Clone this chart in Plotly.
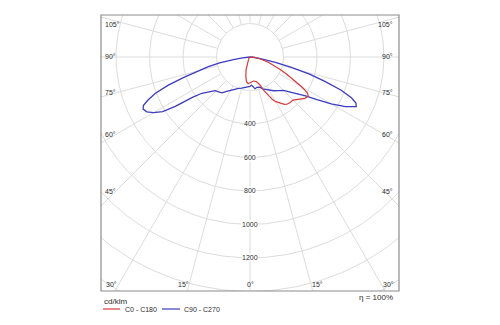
import numpy as np
import plotly.graph_objects as go

# Luminous intensity distribution (cd/klm) versus gamma angle (deg, 0 = straight down)
# C0 / C180 plane (red)
g_c0 = [0, 4, 8, 12, 15, 18, 20, 22, 25, 28, 30, 33, 36, 38, 41, 45, 48, 50, 53, 56,
        58, 60, 62.5, 65, 67.5, 70, 72.5, 75, 77.5, 80, 85, 90]
i_c0 = [155, 150, 145, 148, 153, 168, 180, 212, 250, 290, 308, 330, 350, 358, 362, 364, 380, 392, 410, 420,
        405, 358, 295, 240, 195, 160, 128, 102, 80, 58, 25, 0]
g_c180 = [0, 4, 8, 12, 17, 23, 30, 40, 60, 90]
i_c180 = [155, 160, 149, 120, 80, 40, 18, 8, 2, 0]

# C90 / C270 plane (blue)
g_c90 = [0, 3, 6, 9, 13, 18, 22, 27, 31, 35, 40, 45, 50, 52.5, 55, 57.5, 60, 62.5, 65, 66.5,
         68, 70, 72, 74, 76, 78, 80, 83, 86, 90]
i_c90 = [176, 168, 182, 192, 186, 190, 205, 217, 232, 246, 262, 282, 330, 360, 405, 475, 560, 642, 700, 690,
         655, 580, 470, 370, 255, 155, 95, 50, 20, 0]
g_c270 = [0, 3, 6, 10, 15, 20, 25, 30, 35, 38, 42, 46, 50, 53, 55, 56.5, 58, 60, 62, 64,
          65.5, 67, 69, 71, 73, 75, 77, 79, 81, 84, 87, 90]
i_c270 = [176, 180, 182, 186, 193, 200, 213, 228, 252, 272, 280, 290, 325, 360, 420, 535, 615, 665, 698, 710,
          700, 665, 607, 516, 410, 320, 255, 185, 100, 45, 15, 0]

ring_values = [200, 400, 600, 800, 1000, 1200, 1400, 1600]
ring_labels = [400, 600, 800, 1000, 1200]
spoke_step = 15

side_labels = ["105°", "90°", "75°", "60°", "45°"]
side_label_py = [24, 56, 92, 134, 191.5]
bottom_labels = ["30°", "15°", "0°", "15°", "30°"]
bottom_label_px = [111.5, 183, 250, 317, 388.5]

series_names = ["C0 - C180", "C90 - C270"]
unit_label = "cd/klm"
efficiency_label = "η = 100%"

W, H = 500, 325
L, R, T, B = 101, 399, 15, 291          # plot area in pixels
X_RANGE = [-890, 890]
Y_RANGE = [-1398, 251]

RED = "rgb(214,58,58)"
BLUE = "rgb(60,60,190)"
GRID = "#dcdcdc"
TXT = "#2e2e2e"
FONT = "Liberation Sans"


def to_xy(g_right, i_right, g_left, i_left):
    """Left half (gamma 90 -> 0) followed by right half (gamma 0 -> 90)."""
    gl = np.radians(np.array(g_left[::-1], dtype=float))
    il = np.array(i_left[::-1], dtype=float)
    gr = np.radians(np.array(g_right, dtype=float))
    ir = np.array(i_right, dtype=float)
    x = np.concatenate([-il * np.sin(gl), ir * np.sin(gr)])
    y = np.concatenate([-il * np.cos(gl), -ir * np.cos(gr)])
    return x, y


def px_x(px):
    return (px - L) / (R - L)


def px_y(py):
    return (B - py) / (B - T)


def label(x, y, text, xanchor, size=7, xref="paper", yref="paper", **kw):
    return dict(x=x, y=y, xref=xref, yref=yref, text=text, showarrow=False,
                xanchor=xanchor, yanchor="middle",
                font=dict(size=size, color=TXT, family=FONT), **kw)


fig = go.Figure()

# polar grid: rings
t = np.linspace(0, 2 * np.pi, 361)
gx, gy = [], []
for r in ring_values:
    gx += list(r * np.sin(t)) + [None]
    gy += list(r * np.cos(t)) + [None]
# spokes every 15 degrees, starting at the first ring
for a in range(0, 360, spoke_step):
    ar = np.radians(a)
    gx += [ring_values[0] * np.sin(ar), 2200 * np.sin(ar), None]
    gy += [-ring_values[0] * np.cos(ar), -2200 * np.cos(ar), None]
fig.add_trace(go.Scatter(x=gx, y=gy, mode="lines", line=dict(color=GRID, width=1),
                         hoverinfo="skip", showlegend=False))

xb, yb = to_xy(g_c90, i_c90, g_c270, i_c270)
fig.add_trace(go.Scatter(x=xb, y=yb, mode="lines", line=dict(color=BLUE, width=1.3),
                         name=series_names[1], showlegend=False))
xr, yr = to_xy(g_c0, i_c0, g_c180, i_c180)
fig.add_trace(go.Scatter(x=xr, y=yr, mode="lines", line=dict(color=RED, width=1.2),
                         name=series_names[0], showlegend=False))

ann = []
for v in ring_labels:
    ann.append(label(0, -v, str(v), "center", xref="x", yref="y", bgcolor="white", borderpad=0))
for txt, py in zip(side_labels, side_label_py):
    ann.append(label(px_x(103), px_y(py), txt, "left"))
    ann.append(label(px_x(395), px_y(py), txt, "right"))
for txt, px in zip(bottom_labels, bottom_label_px):
    ann.append(label(px_x(px), px_y(284), txt, "center"))

# footer: unit, legend, efficiency
ann.append(label(px_x(102), px_y(301), unit_label, "left", size=8))
ann.append(label(px_x(123), px_y(309), series_names[0], "left"))
ann.append(label(px_x(182), px_y(309), series_names[1], "left"))
ann.append(label(px_x(395), px_y(298), efficiency_label, "right", size=8))

shapes = [
    dict(type="rect", xref="paper", yref="paper", x0=0, x1=1, y0=0, y1=1,
         line=dict(color="#8c8c8c", width=1.2)),
    dict(type="line", xref="paper", yref="paper", x0=px_x(103), x1=px_x(120),
         y0=px_y(309), y1=px_y(309), line=dict(color="rgba(214,58,58,0.6)", width=2)),
    dict(type="line", xref="paper", yref="paper", x0=px_x(162), x1=px_x(180),
         y0=px_y(309), y1=px_y(309), line=dict(color="rgba(60,60,190,0.6)", width=2)),
]

fig.update_layout(
    width=W, height=H,
    margin=dict(l=L, r=W - R, t=T, b=H - B, pad=0),
    paper_bgcolor="white", plot_bgcolor="white",
    xaxis=dict(range=X_RANGE, visible=False, fixedrange=True),
    yaxis=dict(range=Y_RANGE, visible=False, fixedrange=True),
    annotations=ann, shapes=shapes, showlegend=False,
)
fig.write_html("out.html")
